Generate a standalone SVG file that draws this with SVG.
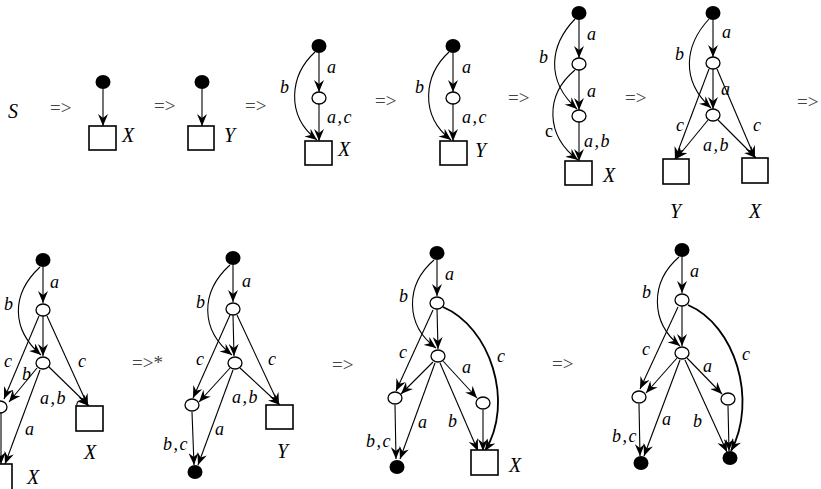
<svg xmlns="http://www.w3.org/2000/svg" width="821" height="489" viewBox="0 0 821 489">
<style>
.e{fill:none;stroke:#000;stroke-width:1.1;marker-end:url(#ah)}
.eb{fill:none;stroke:#000;stroke-width:1.8;marker-end:url(#ah)}
.dot{fill:#000}
.cir{fill:#fff;stroke:#000;stroke-width:1.3}
.box{fill:#fff;stroke:#000;stroke-width:1.6}
text{font-family:"Liberation Serif","Times New Roman",serif}
.lb{font-style:italic;font-size:18px;fill:#000;letter-spacing:1.5px}
.nm{font-style:italic;font-size:20px;fill:#000}
.op{font-size:19px;fill:#444}
.up{font-size:18px;fill:#000}
</style>
<defs>
<marker id="ah" viewBox="0 0 12 10" refX="12" refY="5" markerWidth="12" markerHeight="10" markerUnits="userSpaceOnUse" orient="auto">
<path d="M0,0 L12,5 L0,10 L4,5 z" fill="#000"/>
</marker>
</defs>
<rect width="821" height="489" fill="#fff"/>

<g id="connectors">
<line class="e" x1="103" y1="89" x2="103" y2="126"/>
<line class="e" x1="202" y1="89" x2="202" y2="126"/>
<line class="e" x1="319" y1="53" x2="319" y2="92"/>
<line class="e" x1="319" y1="104" x2="319" y2="141"/>
<path class="e" d="M315,52 C290,75 285,115 317,140"/>
<line class="e" x1="453" y1="53" x2="453" y2="92"/>
<line class="e" x1="453" y1="104" x2="453" y2="141"/>
<path class="e" d="M449,52 C424,75 419,115 451,140"/>
<line class="e" x1="579" y1="20" x2="579" y2="58"/>
<line class="e" x1="579" y1="70" x2="579" y2="110"/>
<line class="e" x1="579" y1="122" x2="579" y2="161"/>
<path class="e" d="M575,19 C550,45 545,80 577,109"/>
<path class="e" d="M575,70 C545,95 545,135 578,160"/>
<line class="e" x1="713" y1="20" x2="713" y2="57"/>
<line class="e" x1="713" y1="69" x2="713" y2="109"/>
<path class="e" d="M709,19 C685,45 680,80 711,108"/>
<line class="e" x1="709" y1="69" x2="675" y2="159"/>
<line class="e" x1="717" y1="69" x2="755" y2="158"/>
<line class="e" x1="708" y1="120" x2="676" y2="159"/>
<line class="e" x1="718" y1="120" x2="756" y2="158"/>
<line class="e" x1="43" y1="267" x2="43" y2="303"/>
<line class="e" x1="43" y1="316" x2="43" y2="356"/>
<path class="e" d="M40,267 C10,295 12,330 41,355"/>
<line class="e" x1="39" y1="316" x2="4" y2="399"/>
<line class="e" x1="37" y1="368" x2="9" y2="402"/>
<line class="e" x1="47" y1="316" x2="88" y2="406"/>
<line class="e" x1="49" y1="367" x2="89" y2="406"/>
<path fill="none" stroke="#000" stroke-width="1.1" d="M77,406 C76,401 81,399 84,402"/>
<line class="e" x1="40" y1="370" x2="5" y2="464"/>
<line class="e" x1="1" y1="413" x2="1" y2="464"/>
<line class="e" x1="233" y1="265" x2="233" y2="302"/>
<line class="e" x1="233" y1="315" x2="234" y2="356"/>
<path class="e" d="M230,265 C200,292 200,330 232,355"/>
<line class="e" x1="230" y1="315" x2="193" y2="398"/>
<line class="e" x1="230" y1="368" x2="199" y2="402"/>
<line class="e" x1="237" y1="315" x2="279" y2="405"/>
<line class="e" x1="240" y1="368" x2="280" y2="405"/>
<line class="e" x1="233" y1="370" x2="198" y2="465"/>
<line class="e" x1="192" y1="412" x2="194" y2="465"/>
<line class="e" x1="437" y1="260" x2="437" y2="296"/>
<line class="e" x1="437" y1="309" x2="438" y2="349"/>
<path class="e" d="M434,260 C405,285 405,325 436,348"/>
<line class="e" x1="433" y1="310" x2="396" y2="391"/>
<line class="e" x1="433" y1="362" x2="401" y2="394"/>
<line class="e" x1="443" y1="361" x2="477" y2="398"/>
<path class="eb" d="M443,307 C490,327 515,402 485,451"/>
<line class="e" x1="440" y1="363" x2="478" y2="451"/>
<line class="e" x1="483" y1="410" x2="483" y2="451"/>
<line class="e" x1="435" y1="363" x2="400" y2="459"/>
<line class="e" x1="395" y1="405" x2="396" y2="459"/>
<line class="e" x1="682" y1="257" x2="682" y2="293"/>
<line class="e" x1="682" y1="306" x2="682" y2="346"/>
<path class="e" d="M679,257 C650,282 650,322 680,346"/>
<line class="e" x1="678" y1="307" x2="640" y2="389"/>
<line class="e" x1="677" y1="358" x2="646" y2="393"/>
<line class="e" x1="687" y1="358" x2="722" y2="394"/>
<path class="eb" d="M688,305 C735,325 758,400 731,451"/>
<line class="e" x1="685" y1="360" x2="727" y2="452"/>
<line class="e" x1="728" y1="406" x2="729" y2="451"/>
<line class="e" x1="680" y1="360" x2="644" y2="456"/>
<line class="e" x1="639" y1="404" x2="640" y2="456"/>
</g>

<g id="operators">
<text class="nm" x="8" y="118">S</text>
<text class="op" x="50" y="114">=&gt;</text>
<text class="op" x="154" y="112">=&gt;</text>
<text class="op" x="245" y="112">=&gt;</text>
<text class="op" x="375" y="107">=&gt;</text>
<text class="op" x="508" y="104">=&gt;</text>
<text class="op" x="625" y="104">=&gt;</text>
<text class="op" x="797" y="108">=&gt;</text>
<text class="op" x="132" y="369">=&gt;*</text>
<text class="op" x="332" y="371">=&gt;</text>
<text class="op" x="552" y="370">=&gt;</text>
</g>

<g id="labels">
<text class="lb" x="327" y="73">a</text>
<text class="lb" x="327" y="123">a,c</text>
<text class="lb" x="280" y="93">b</text>
<text class="lb" x="462" y="73">a</text>
<text class="lb" x="462" y="123">a,c</text>
<text class="lb" x="415" y="93">b</text>
<text class="lb" x="587" y="40">a</text>
<text class="lb" x="587" y="97">a</text>
<text class="lb" x="584" y="147">a,b</text>
<text class="lb" x="539" y="63">b</text>
<text class="up" x="545" y="137">c</text>
<text class="lb" x="722" y="38">a</text>
<text class="lb" x="721" y="95">a</text>
<text class="lb" x="675" y="60">b</text>
<text class="lb" x="676" y="131">c</text>
<text class="lb" x="753" y="131">c</text>
<text class="lb" x="703" y="151">a,b</text>
<text class="lb" x="50" y="288">a</text>
<text class="lb" x="4" y="310">b</text>
<text class="lb" x="4" y="367">c</text>
<text class="lb" x="78" y="367">c</text>
<text class="lb" x="22" y="380">b</text>
<text class="lb" x="40" y="404">a,b</text>
<text class="lb" x="25" y="435">a</text>
<text class="lb" x="242" y="287">a</text>
<text class="lb" x="196" y="308">b</text>
<text class="lb" x="196" y="365">c</text>
<text class="lb" x="268" y="365">c</text>
<text class="lb" x="232" y="403">a,b</text>
<text class="lb" x="215" y="435">a</text>
<text class="lb" x="163" y="450">b,c</text>
<text class="lb" x="445" y="280">a</text>
<text class="lb" x="399" y="302">b</text>
<text class="lb" x="399" y="358">c</text>
<text class="lb" x="497" y="362">c</text>
<text class="lb" x="462" y="373">a</text>
<text class="lb" x="448" y="427">b</text>
<text class="lb" x="418" y="428">a</text>
<text class="lb" x="366" y="447">b,c</text>
<text class="lb" x="690" y="277">a</text>
<text class="lb" x="642" y="298">b</text>
<text class="lb" x="642" y="355">c</text>
<text class="lb" x="742" y="360">c</text>
<text class="lb" x="703" y="372">a</text>
<text class="lb" x="693" y="427">b</text>
<text class="lb" x="662" y="425">a</text>
<text class="lb" x="612" y="442">b,c</text>
</g>

<g id="p1-root"><ellipse class="dot" cx="103" cy="82" rx="7.5" ry="7"/></g>
<g id="p1-X"><rect class="box" x="89" y="126" width="27" height="24"/><text class="nm" x="122" y="142">X</text></g>
<g id="p2-root"><ellipse class="dot" cx="202" cy="82" rx="7.5" ry="7"/></g>
<g id="p2-Y"><rect class="box" x="188" y="126" width="26" height="24"/><text class="nm" x="224" y="142">Y</text></g>

<g id="p3-root"><ellipse class="dot" cx="319" cy="46" rx="7.5" ry="7"/></g>
<g id="p3-n1"><ellipse class="cir" cx="319" cy="98" rx="7" ry="6"/></g>
<g id="p3-X"><rect class="box" x="305" y="141" width="27" height="24"/><text class="nm" x="338" y="156">X</text></g>

<g id="p4-root"><ellipse class="dot" cx="453" cy="46" rx="7.5" ry="7"/></g>
<g id="p4-n1"><ellipse class="cir" cx="453" cy="98" rx="7" ry="6"/></g>
<g id="p4-Y"><rect class="box" x="440" y="141" width="27" height="24"/><text class="nm" x="475" y="157">Y</text></g>

<g id="p5-root"><ellipse class="dot" cx="579" cy="13" rx="7.5" ry="7"/></g>
<g id="p5-n1"><ellipse class="cir" cx="579" cy="64" rx="7" ry="6"/></g>
<g id="p5-n2"><ellipse class="cir" cx="579" cy="116" rx="7" ry="6"/></g>
<g id="p5-X"><rect class="box" x="565" y="161" width="27" height="24"/><text class="nm" x="603" y="182">X</text></g>

<g id="p6-root"><ellipse class="dot" cx="713" cy="13" rx="7.5" ry="7"/></g>
<g id="p6-n1"><ellipse class="cir" cx="713" cy="63" rx="7" ry="6"/></g>
<g id="p6-n2"><ellipse class="cir" cx="713" cy="115" rx="7" ry="6"/></g>
<g id="p6-Y"><rect class="box" x="663" y="159" width="26" height="25"/><text class="nm" x="670" y="218">Y</text></g>
<g id="p6-X"><rect class="box" x="742" y="158" width="26" height="25"/><text class="nm" x="749" y="218">X</text></g>

<g id="p7-root"><ellipse class="dot" cx="43" cy="260" rx="7.5" ry="7"/></g>
<g id="p7-n1"><ellipse class="cir" cx="43" cy="310" rx="7" ry="6"/></g>
<g id="p7-n2"><ellipse class="cir" cx="43" cy="363" rx="7" ry="6"/></g>
<g id="p7-n3"><ellipse class="cir" cx="0" cy="407" rx="7" ry="6"/></g>
<g id="p7-X1"><rect class="box" x="76" y="406" width="27" height="25"/><text class="nm" x="84" y="459">X</text></g>
<g id="p7-X2"><rect class="box" x="-14" y="464" width="26" height="27"/><text class="nm" x="27" y="484">X</text></g>

<g id="p8-root"><ellipse class="dot" cx="233" cy="258" rx="7.5" ry="7"/></g>
<g id="p8-n1"><ellipse class="cir" cx="233" cy="309" rx="7" ry="6"/></g>
<g id="p8-n2"><ellipse class="cir" cx="235" cy="363" rx="7" ry="6"/></g>
<g id="p8-n3"><ellipse class="cir" cx="192" cy="405" rx="7" ry="6"/></g>
<g id="p8-Y"><rect class="box" x="266" y="405" width="27" height="24"/><text class="nm" x="277" y="458">Y</text></g>
<g id="p8-end"><ellipse class="dot" cx="195" cy="472" rx="7.5" ry="7"/></g>

<g id="p9-root"><ellipse class="dot" cx="437" cy="253" rx="7.5" ry="7"/></g>
<g id="p9-n1"><ellipse class="cir" cx="437" cy="303" rx="7" ry="6"/></g>
<g id="p9-n2"><ellipse class="cir" cx="438" cy="356" rx="7" ry="6"/></g>
<g id="p9-n3"><ellipse class="cir" cx="395" cy="398" rx="7" ry="6"/></g>
<g id="p9-n4"><ellipse class="cir" cx="483" cy="403" rx="7" ry="6"/></g>
<g id="p9-end"><ellipse class="dot" cx="397" cy="467" rx="7.5" ry="7"/></g>
<g id="p9-X"><rect class="box" x="471" y="450" width="27" height="25"/><text class="nm" x="509" y="472">X</text></g>

<g id="p10-root"><ellipse class="dot" cx="682" cy="250" rx="7.5" ry="7"/></g>
<g id="p10-n1"><ellipse class="cir" cx="682" cy="300" rx="7" ry="6"/></g>
<g id="p10-n2"><ellipse class="cir" cx="682" cy="353" rx="7" ry="6"/></g>
<g id="p10-n3"><ellipse class="cir" cx="639" cy="397" rx="7" ry="6"/></g>
<g id="p10-n4"><ellipse class="cir" cx="728" cy="399" rx="7" ry="6"/></g>
<g id="p10-end1"><ellipse class="dot" cx="641" cy="463" rx="7.5" ry="7"/></g>
<g id="p10-end2"><ellipse class="dot" cx="730" cy="458" rx="7.5" ry="7"/></g>
</svg>
